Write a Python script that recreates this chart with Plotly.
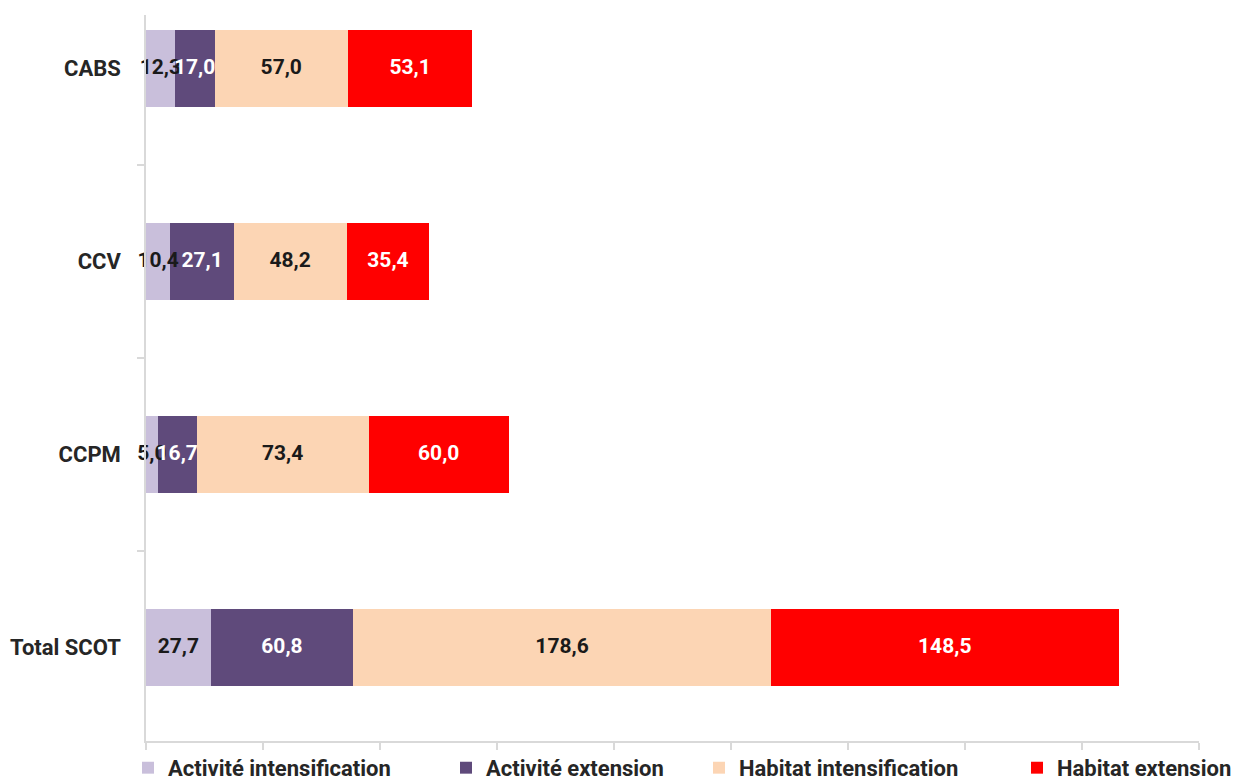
import plotly.graph_objects as go

categories = ["CABS", "CCV", "CCPM", "Total SCOT"]
series_names = ["Activité intensification", "Activité extension",
                "Habitat intensification", "Habitat extension"]
activite_intensification = [12.3, 10.4, 5.0, 27.7]
activite_extension = [17.0, 27.1, 16.7, 60.8]
habitat_intensification = [57.0, 48.2, 73.4, 178.6]
habitat_extension = [53.1, 35.4, 60.0, 148.5]
x_ticks = [0, 50, 100, 150, 200, 250, 300, 350, 400, 450]

series_values = [activite_intensification, activite_extension,
                 habitat_intensification, habitat_extension]
colors = ["#c9bfdb", "#5f4a7b", "#fcd5b4", "#ff0000"]
text_colors = ["#1a1a1a", "#ffffff", "#1a1a1a", "#ffffff"]

FONT = "Roboto"
W, H = 1235, 772          # page body adds an 8px offset
L, R, T, B = 138, 44, 7, 39
PW = W - L - R

legend_keys = ["legend", "legend2", "legend3", "legend4"]
legend_px = [120, 438, 691, 1009]   # left edge of each legend box (figure px)

fig = go.Figure()
for name, vals, col, lk in zip(series_names, series_values, colors, legend_keys):
    fig.add_trace(go.Bar(
        name=name, y=categories, x=vals, orientation="h",
        marker=dict(color=col, line=dict(width=0)),
        width=0.4, hoverinfo="skip", legend=lk,
    ))

# value labels drawn on top of all bars (centred in each segment)
lab_x, lab_y, lab_t, lab_c = [], [], [], []
for ci, cat in enumerate(categories):
    base = 0.0
    for vals, tcol in zip(series_values, text_colors):
        v = vals[ci]
        lab_x.append(base + v / 2)
        lab_y.append(cat)
        lab_t.append(f"{v:.1f}".replace(".", ","))
        lab_c.append(tcol)
        base += v
fig.add_trace(go.Scatter(
    x=lab_x, y=lab_y, text=lab_t, mode="text", textposition="middle center",
    textfont=dict(family=FONT, size=21, color=lab_c, weight="bold"),
    showlegend=False, hoverinfo="skip", cliponaxis=False,
))

legend_common = dict(orientation="h", xanchor="left", y=-0.037, yanchor="middle",
                     font=dict(family=FONT, size=22, color="#262626", weight="bold"),
                     itemwidth=30, bgcolor="rgba(0,0,0,0)")
layout_legends = {}
for lk, px in zip(legend_keys, legend_px):
    layout_legends[lk] = dict(legend_common, x=(px - L) / PW)

fig.update_layout(
    barmode="stack",
    width=W, height=H,
    paper_bgcolor="white", plot_bgcolor="white",
    margin=dict(l=L, r=R, t=T, b=B, autoexpand=False),
    font=dict(family=FONT, color="#262626"),
    showlegend=True,
    **layout_legends,
)
fig.update_xaxes(
    range=[0, 450], tickvals=x_ticks, showticklabels=False,
    showgrid=False, zeroline=False,
    showline=True, linecolor="#d9d9d9", linewidth=1.5,
    ticks="outside", ticklen=7, tickcolor="#d9d9d9", tickwidth=1.5,
)
fig.update_yaxes(
    type="category", categoryorder="array", categoryarray=categories,
    range=[3.484, -0.276], showgrid=False, zeroline=False,
    showline=True, linecolor="#d9d9d9", linewidth=1.5,
    ticks="outside", ticklen=7, tickcolor="#d9d9d9", tickwidth=1.5,
    tickson="boundaries", ticklabelstandoff=19,
    tickfont=dict(family=FONT, size=22, color="#262626", weight="bold"),
)

fig.write_html("out.html")
